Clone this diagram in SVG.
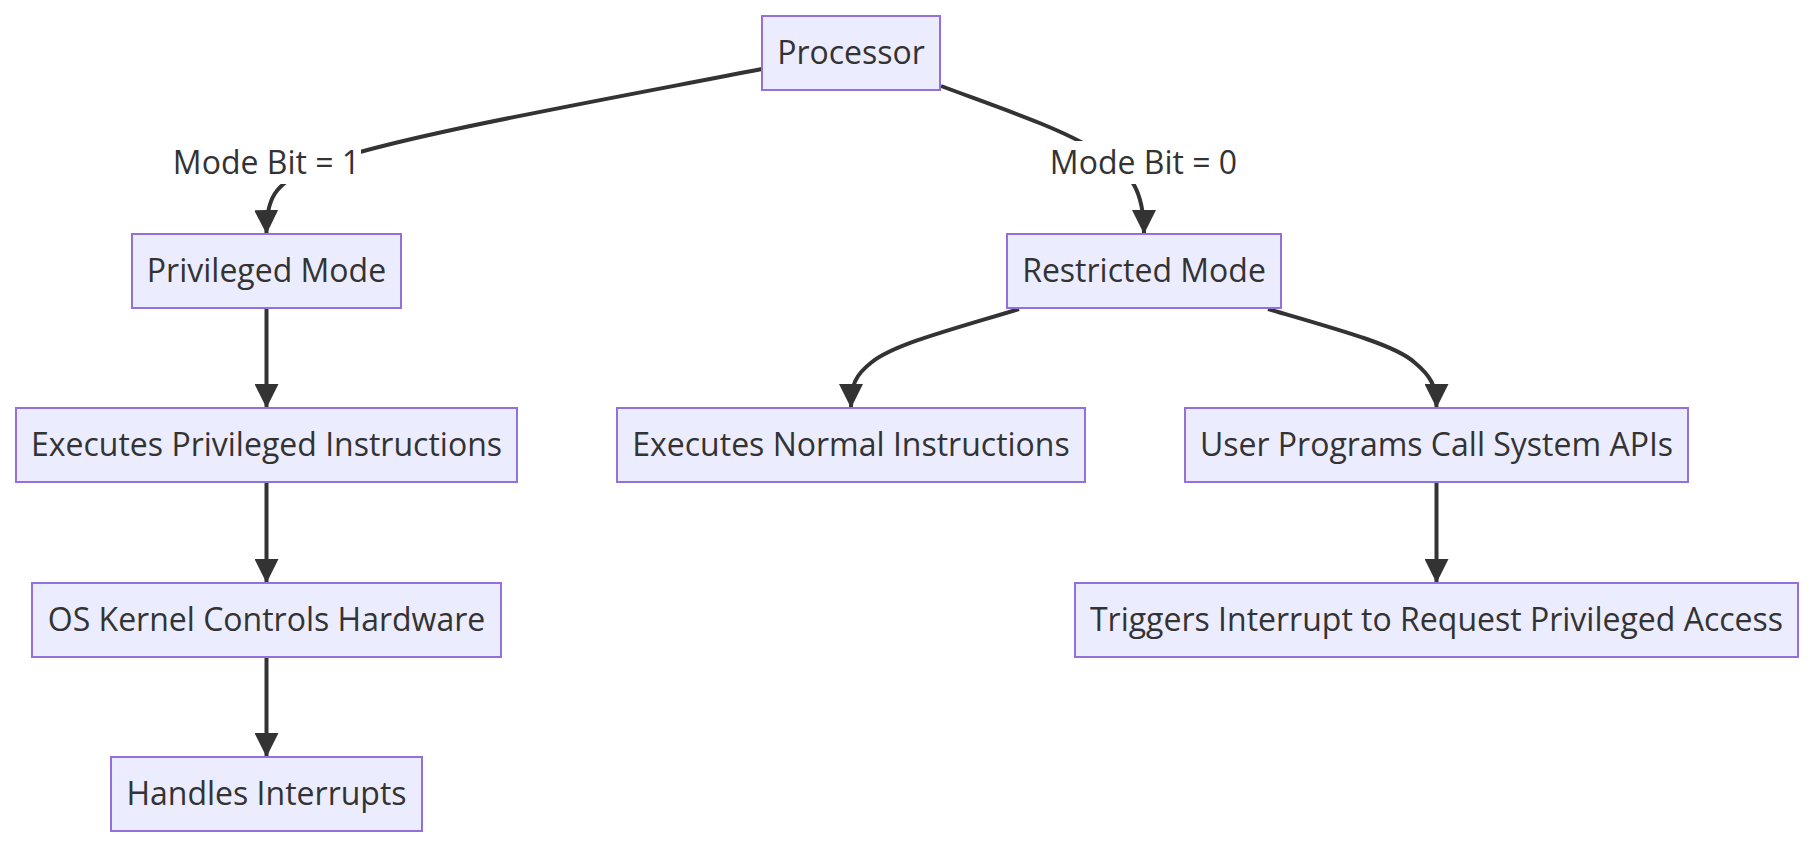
<svg xmlns="http://www.w3.org/2000/svg" width="1813" height="846" viewBox="0 0 1813 846">
<style>
  .node rect { fill: #ECECFF; stroke: #9370DB; stroke-width: 2; }
  .node text, .elabel text { font-family: "Open Sans", "Liberation Sans", sans-serif; font-size: 32px; fill: #333333; text-anchor: middle; }
  .edge { fill: none; stroke: #333333; stroke-width: 4; marker-end: url(#arrow); }
  .elabel rect { fill: #FFFFFF; }
</style>
<defs>
  <marker id="arrow" markerUnits="userSpaceOnUse" markerWidth="24" markerHeight="24" viewBox="0 0 24 24" refX="24" refY="12" orient="auto">
    <path d="M0,0 L24,12 L0,24 z" fill="#333333"/>
  </marker>
</defs>
<rect width="1813" height="846" fill="#FFFFFF"/>
<g id="connectors">
  <path class="edge" d="M762,69 C560,108 380,140 310,168 C275,184 266,198 266.5,234"/>
  <path class="edge" d="M941,86 C1000,108 1060,128 1095,150 C1133,172 1144,192 1144,234"/>
  <path class="edge" d="M1019,309 C950,330 895,344 872,362 C855,375 851,385 851,408"/>
  <path class="edge" d="M1268,309 C1340,330 1395,345 1414,362 C1431,376 1436.5,386 1436.5,408"/>
  <path class="edge" d="M266.5,308 L266.5,408"/>
  <path class="edge" d="M266.5,482 L266.5,583"/>
  <path class="edge" d="M266.5,657 L266.5,757"/>
  <path class="edge" d="M1436.5,482 L1436.5,583"/>
  <g class="elabel" id="label-mode1">
    <rect x="172" y="141" width="189" height="43"/>
    <text x="266.5" y="174">Mode Bit = 1</text>
  </g>
  <g class="elabel" id="label-mode0">
    <rect x="1049" y="141" width="189" height="43"/>
    <text x="1143.5" y="174">Mode Bit = 0</text>
  </g>
</g>
<g id="processor" class="node">
  <rect x="762" y="16" width="178" height="74"/>
  <text x="851" y="64">Processor</text>
</g>
<g id="privileged" class="node">
  <rect x="132" y="234" width="269" height="74"/>
  <text x="266.5" y="282">Privileged Mode</text>
</g>
<g id="restricted" class="node">
  <rect x="1007" y="234" width="274" height="74"/>
  <text x="1144" y="282">Restricted Mode</text>
</g>
<g id="exec-priv" class="node">
  <rect x="16" y="408" width="501" height="74"/>
  <text x="266.5" y="456">Executes Privileged Instructions</text>
</g>
<g id="exec-normal" class="node">
  <rect x="617" y="408" width="468" height="74"/>
  <text x="851" y="456">Executes Normal Instructions</text>
</g>
<g id="user-programs" class="node">
  <rect x="1185" y="408" width="503" height="74"/>
  <text x="1436.5" y="456">User Programs Call System APIs</text>
</g>
<g id="os-kernel" class="node">
  <rect x="32" y="583" width="469" height="74"/>
  <text x="266.5" y="631">OS Kernel Controls Hardware</text>
</g>
<g id="triggers" class="node">
  <rect x="1075" y="583" width="723" height="74"/>
  <text x="1436.5" y="631">Triggers Interrupt to Request Privileged Access</text>
</g>
<g id="handles" class="node">
  <rect x="111" y="757" width="311" height="74"/>
  <text x="266.5" y="805">Handles Interrupts</text>
</g>
</svg>
